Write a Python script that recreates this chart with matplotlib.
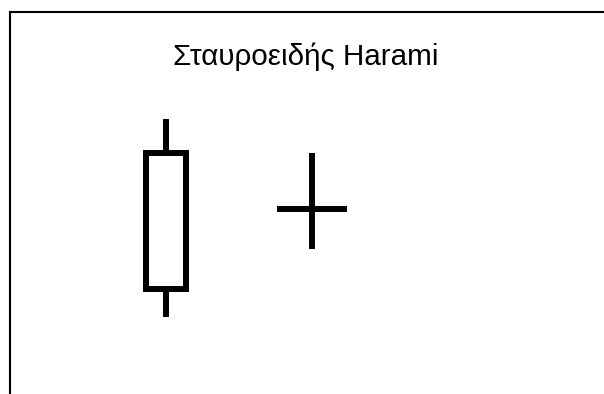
import matplotlib.pyplot as plt
from matplotlib.patches import Rectangle

plt.rcParams['font.family'] = ['Liberation Sans', 'DejaVu Sans']

title = 'Σταυροειδής Harami'

# two candles: a long body and a doji (cross)
xs = [1, 2]
opens = [10.5, 18.5]
closes = [24.1, 18.5]
highs = [27.5, 24.1]
lows = [7.7, 14.5]
widths = [0.274, 0.48]

fig = plt.figure(figsize=(6.04, 3.94), dpi=100)
ax = fig.add_axes([10 / 604, 0, 594 / 604, 382 / 394])
ax.set_xlim(-0.0685, 4.0)
ax.set_ylim(0, 38.2)

lw = 4.3
for x, o, c, h, l, w in zip(xs, opens, closes, highs, lows, widths):
    top = max(o, c)
    bot = min(o, c)
    if top - bot > 0:
        ax.add_patch(Rectangle((x - w / 2, bot), w, top - bot, facecolor='white',
                               edgecolor='black', linewidth=lw, joinstyle='miter', zorder=3))
        ax.plot([x, x], [top, h], color='black', lw=lw, solid_capstyle='butt')
        ax.plot([x, x], [l, bot], color='black', lw=lw, solid_capstyle='butt')
    else:
        ax.plot([x, x], [l, h], color='black', lw=lw, solid_capstyle='butt')
        ax.plot([x - w / 2, x + w / 2], [o, o], color='black', lw=lw, solid_capstyle='butt')

for side in ['right', 'bottom']:
    ax.spines[side].set_visible(False)
for side in ['left', 'top']:
    ax.spines[side].set_linewidth(1.5)
    ax.spines[side].set_color('black')
ax.set_xticks([])
ax.set_yticks([])

fig.text(306 / 604, 1 - 65 / 394, title, ha='center', va='baseline', fontsize=21.3)

fig.savefig('out.png', dpi=100)
